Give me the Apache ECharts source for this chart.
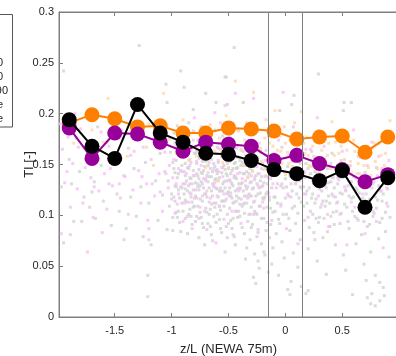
<!DOCTYPE html>
<html>
<head>
<meta charset="utf-8">
<script src="https://cdn.jsdelivr.net/npm/echarts@6/dist/echarts.min.js"></script>
<style>
  html, body { margin: 0; padding: 0; background: #fff; }
  #chart { width: 396px; height: 356px; }
</style>
</head>
<body>
<div id="chart"></div>
<script>
// Bin centres of z/L used for the binned TI means
const binCentres = [-1.9, -1.7, -1.5, -1.3, -1.1, -0.9, -0.7, -0.5, -0.3, -0.1, 0.1, 0.3, 0.5, 0.7, 0.9];

// Binned mean TI for the three groups
const tiOrange = [0.191, 0.199, 0.195, 0.187, 0.188, 0.181, 0.181, 0.186, 0.185, 0.183, 0.175, 0.177, 0.178, 0.162, 0.177];
const tiPurple = [0.186, 0.156, 0.181, 0.180, 0.172, 0.163, 0.172, 0.170, 0.168, 0.154, 0.159, 0.151, 0.145, 0.133, 0.140];
const tiBlack  = [0.194, 0.168, 0.156, 0.209, 0.181, 0.172, 0.161, 0.160, 0.154, 0.145, 0.141, 0.134, 0.144, 0.108, 0.137];

// Stability class boundaries drawn as vertical lines
const stabilityLimits = [-0.15, 0.15];

// Tick values
const xTicks = [-1.5, -1, -0.5, 0, 0.5];

// Individual 10-min samples (z/L, TI)
const samplesGray = [
  [-1.97,0.128],[-1.95,0.073],[-1.95,0.242],[-1.9,0.155],[-1.88,0.131],[-1.86,0.094],[-1.84,0.176],[-1.81,0.143],[-1.79,0.094],[-1.77,0.118],
  [-1.74,0.162],[-1.72,0.108],[-1.7,0.123],[-1.68,0.133],[-1.67,0.097],[-1.65,0.187],[-1.62,0.149],[-1.6,0.114],[-1.57,0.172],[-1.55,0.131],
  [-1.53,0.09],[-1.5,0.158],[-1.48,0.121],[-1.46,0.104],[-1.44,0.183],[-1.42,0.139],[-1.4,0.087],[-1.38,0.166],[-1.36,0.118],[-1.33,0.146],
  [-1.31,0.099],[-1.285,0.267],[-1.27,0.128],[-1.25,0.079],[-1.23,0.152],[-1.21,0.041],[-1.21,0.02],[-1.2,0.112],[-1.18,0.071],[-1.16,0.175],
  [-1.14,0.134],[-1.12,0.095],[-1.1,0.161],[-1.08,0.12],[-1.06,0.143],[-1.04,0.086],[-1.05,0.229],[-1.04,0.211],[-0.92,0.242],[-0.89,0.226],
  [-0.81,0.204],[-0.7,0.22],[-0.53,0.236],[-0.61,0.211],[-0.45,0.265],[-0.52,0.236],[0.29,0.239],[0.076,0.218],[0.516,0.211],[0.58,0.211],
  [0.51,0.203],[-0.51,0.209],[-0.37,0.211],[0.056,0.209],[-0.05,0.203],
  [-0.99,0.152],[-0.98,0.118],[-0.97,0.171],[-0.96,0.103],[-0.95,0.137],[-0.95,0.188],[-0.94,0.125],[-0.93,0.093],[-0.93,0.159],[-0.92,0.144],
  [-0.91,0.112],[-0.9,0.177],[-0.9,0.131],[-0.99,0.098],[-0.97,0.142],[-0.94,0.165],[-0.92,0.084],[-0.91,0.149],[-0.96,0.128],[-0.98,0.181],
  [-0.89,0.121],[-0.89,0.158],[-0.88,0.097],[-0.88,0.139],[-0.87,0.173],[-0.87,0.113],[-0.86,0.147],[-0.86,0.082],[-0.85,0.129],[-0.85,0.191],
  [-0.84,0.106],[-0.84,0.155],[-0.83,0.136],[-0.83,0.118],[-0.82,0.168],[-0.82,0.091],[-0.81,0.144],[-0.81,0.125],[-0.8,0.109],[-0.8,0.161],
  [-0.86,0.124],[-0.84,0.137],[-0.88,0.151],[-0.83,0.099],[-0.81,0.183],
  [-0.79,0.132],[-0.79,0.094],[-0.78,0.151],[-0.78,0.117],[-0.77,0.174],[-0.77,0.139],[-0.76,0.078],[-0.76,0.125],[-0.75,0.158],[-0.75,0.103],
  [-0.74,0.142],[-0.74,0.187],[-0.73,0.114],[-0.73,0.131],[-0.72,0.166],[-0.72,0.088],[-0.71,0.148],[-0.71,0.121],[-0.7,0.107],[-0.7,0.136],
  [-0.78,0.163],[-0.76,0.145],[-0.74,0.098],[-0.72,0.127],[-0.77,0.109],[-0.75,0.129],[-0.73,0.153],[-0.71,0.071],
  [-0.69,0.155],[-0.69,0.118],[-0.68,0.133],[-0.68,0.092],[-0.67,0.171],[-0.67,0.127],[-0.66,0.146],[-0.66,0.106],[-0.65,0.138],[-0.65,0.081],
  [-0.64,0.162],[-0.64,0.119],[-0.63,0.151],[-0.63,0.099],[-0.62,0.184],[-0.62,0.135],[-0.61,0.112],[-0.61,0.144],[-0.6,0.126],[-0.6,0.167],
  [-0.69,0.139],[-0.67,0.113],[-0.65,0.124],[-0.63,0.129],[-0.61,0.093],[-0.66,0.159],[-0.64,0.075],[-0.62,0.108],[-0.68,0.176],[-0.6,0.141],
  [-0.59,0.118],[-0.59,0.152],[-0.58,0.096],[-0.58,0.137],[-0.57,0.165],[-0.57,0.124],[-0.56,0.142],[-0.56,0.083],[-0.55,0.131],[-0.55,0.178],
  [-0.54,0.109],[-0.54,0.149],[-0.53,0.127],[-0.53,0.064],[-0.52,0.158],[-0.52,0.116],[-0.51,0.139],[-0.51,0.101],[-0.5,0.146],[-0.5,0.123],
  [-0.58,0.171],[-0.56,0.114],[-0.54,0.133],[-0.52,0.089],[-0.57,0.105],[-0.55,0.147],[-0.53,0.169],[-0.51,0.121],[-0.59,0.134],[-0.5,0.092],
  [-0.49,0.135],[-0.49,0.107],[-0.48,0.161],[-0.48,0.122],[-0.47,0.144],[-0.47,0.087],[-0.46,0.129],[-0.46,0.172],[-0.45,0.113],[-0.45,0.151],
  [-0.44,0.138],[-0.44,0.071],[-0.43,0.166],[-0.43,0.119],[-0.42,0.147],[-0.42,0.098],[-0.41,0.131],[-0.41,0.183],[-0.4,0.111],[-0.4,0.142],
  [-0.48,0.095],[-0.46,0.146],[-0.44,0.124],[-0.42,0.157],[-0.47,0.117],[-0.45,0.079],[-0.43,0.136],[-0.41,0.104],[-0.49,0.153],[-0.4,0.127],
  [-0.39,0.149],[-0.39,0.116],[-0.38,0.132],[-0.38,0.088],[-0.37,0.163],[-0.37,0.124],[-0.36,0.102],[-0.36,0.141],[-0.35,0.057],[-0.35,0.129],
  [-0.34,0.155],[-0.34,0.112],[-0.33,0.137],[-0.33,0.094],[-0.32,0.171],[-0.32,0.121],[-0.31,0.146],[-0.31,0.076],[-0.3,0.133],[-0.3,0.108],
  [-0.38,0.152],[-0.36,0.119],[-0.34,0.068],[-0.32,0.141],[-0.3,0.159],
  [-0.29,0.126],[-0.29,0.091],[-0.28,0.148],[-0.28,0.113],[-0.27,0.062],[-0.27,0.135],[-0.26,0.033],[-0.26,0.119],[-0.25,0.157],[-0.25,0.101],
  [-0.24,0.141],[-0.24,0.083],[-0.23,0.127],[-0.23,0.048],[-0.22,0.165],[-0.22,0.109],[-0.21,0.138],[-0.21,0.072],[-0.2,0.117],[-0.2,0.151],
  [-0.28,0.039],[-0.24,0.055],
  [-0.19,0.132],[-0.19,0.097],[-0.18,0.146],[-0.18,0.061],[-0.17,0.121],[-0.17,0.085],[-0.16,0.159],[-0.16,0.108],[-0.15,0.137],[-0.15,0.044],
  [-0.14,0.115],[-0.13,0.091],[-0.13,0.148],[-0.12,0.127],[-0.11,0.068],[-0.11,0.103],[-0.1,0.139],[-0.12,0.052],
  [-0.09,0.118],[-0.08,0.082],[-0.08,0.153],[-0.07,0.131],[-0.06,0.096],[-0.06,0.041],[-0.05,0.142],[-0.04,0.111],[-0.03,0.074],[-0.03,0.167],
  [-0.02,0.127],[-0.01,0.058],[0,0.136],[0.01,0.101],[0.02,0.027],[0.02,0.148],[0.03,0.119],[0.04,0.085],[0.05,0.035],[0.05,0.131],
  [0.06,0.107],[0.07,0.063],[0.08,0.144],[0.09,0.092],[0.1,0.121],[0.11,0.049],[0.12,0.134],[0.13,0.076],[0.14,0.113],[0.14,0.03],
  [0.04,0.022],[0.18,0.023],[0.2,0.026],
  [0.16,0.128],[0.17,0.095],[0.18,0.151],[0.19,0.112],[0.2,0.067],[0.21,0.137],[0.22,0.104],[0.23,0.163],[0.24,0.121],[0.25,0.083],
  [0.26,0.143],[0.27,0.116],[0.28,0.055],[0.29,0.131],[0.3,0.098],[0.31,0.152],[0.32,0.124],[0.33,0.078],[0.34,0.139],[0.35,0.109],
  [0.36,0.042],[0.37,0.146],[0.38,0.119],[0.39,0.089],[0.4,0.133],[0.41,0.161],[0.42,0.103],[0.43,0.127],[0.44,0.071],[0.45,0.141],
  [0.18,0.121],[0.22,0.141],[0.27,0.097],[0.33,0.114],[0.41,0.121],
  [0.46,0.113],[0.47,0.135],[0.48,0.092],[0.49,0.154],[0.5,0.121],[0.51,0.061],[0.52,0.143],[0.53,0.046],[0.54,0.108],[0.55,0.129],
  [0.56,0.087],[0.57,0.149],[0.58,0.117],[0.59,0.022],[0.6,0.138],[0.61,0.099],[0.62,0.072],[0.63,0.125],[0.64,0.158],[0.65,0.105],
  [0.66,0.134],[0.67,0.081],[0.68,0.117],[0.69,0.052],[0.7,0.142],[0.71,0.036],[0.72,0.109],[0.73,0.128],[0.74,0.091],[0.75,0.064],
  [0.76,0.023],[0.77,0.131],[0.78,0.102],[0.79,0.041],[0.8,0.147],[0.81,0.115],[0.82,0.077],[0.83,0.034],[0.84,0.124],[0.85,0.097],
  [0.86,0.029],[0.87,0.138],[0.88,0.084],[0.89,0.112],[0.91,0.059],[0.72,0.019],[0.75,0.013],[0.79,0.011],[0.83,0.016],[0.87,0.021],
  [-1.03,0.134],[-1.02,0.109],[-1.01,0.162],[-1.0,0.121],[-0.99,0.085],[-0.98,0.146],[-0.97,0.129],[-0.96,0.154],[-0.95,0.098],[-0.94,0.141],
  [-0.93,0.117],[-0.92,0.171],[-0.91,0.127],[-0.9,0.104],[-0.89,0.143],[-0.88,0.115],[-0.87,0.134],[-0.86,0.168],[-0.85,0.101],[-0.84,0.122],
  [-0.83,0.152],[-0.82,0.131],[-0.81,0.108],[-0.8,0.139],[-0.79,0.161],[-0.78,0.099],[-0.77,0.128],[-0.76,0.156],[-0.75,0.116],[-0.74,0.133],
  [-0.73,0.092],[-0.72,0.144],[-0.71,0.172],[-0.7,0.121],[-0.69,0.103],[-0.68,0.149],[-0.67,0.138],[-0.66,0.089],[-0.65,0.155],[-0.64,0.131],
  [-0.63,0.112],[-0.62,0.148],[-0.61,0.127],[-0.6,0.101],[-0.59,0.143],[-0.58,0.124],[-0.57,0.087],[-0.56,0.158],[-0.55,0.114],[-0.54,0.121],
  [-0.53,0.145],[-0.52,0.134],[-0.51,0.078],[-0.5,0.163],[-0.49,0.119],[-0.48,0.141],[-0.47,0.131],[-0.46,0.097],[-0.45,0.137],[-0.44,0.152],
  [-0.43,0.104],[-0.42,0.126],[-0.41,0.117],[-0.4,0.154],[-0.39,0.131],[-0.38,0.109],[-0.37,0.141],[-0.36,0.082],[-0.35,0.149],[-0.34,0.126],
  [-0.33,0.117],[-0.32,0.101],[-0.31,0.132],[-0.3,0.088],[-0.29,0.144],[-0.28,0.127],[-0.27,0.104],[-0.26,0.139],[-0.25,0.079],[-0.24,0.121],
  [-0.23,0.109],[-0.22,0.134],[-0.21,0.097],[-0.2,0.129],[-0.19,0.064],[-0.18,0.118],[-0.17,0.139],[-0.16,0.093],[-0.15,0.122],[-0.14,0.078],
  [-0.97,0.114],[-0.94,0.104],[-0.91,0.161],[-0.88,0.126],[-0.85,0.146],[-0.82,0.113],[-0.79,0.119],[-0.76,0.136],[-0.73,0.141],[-0.7,0.153],
  [-0.67,0.101],[-0.64,0.143],[-0.61,0.136],[-0.58,0.109],[-0.55,0.124],[-0.52,0.141],[-0.49,0.127],[-0.46,0.112],[-0.43,0.146],[-0.4,0.099],
  [-0.37,0.111],[-0.34,0.143],[-0.31,0.119],[-0.28,0.101],[-0.25,0.131],[-0.22,0.122],[-0.19,0.116],[-0.16,0.131],[-0.13,0.107],[-0.1,0.118],
  [0.16,0.109],[0.17,0.137],[0.19,0.124],[0.2,0.146],[0.21,0.088],[0.23,0.117],[0.24,0.101],[0.25,0.132],[0.26,0.112],[0.28,0.141],
  [0.29,0.093],[0.3,0.126],[0.31,0.108],[0.32,0.136],[0.34,0.097],[0.35,0.129],[0.36,0.114],[0.37,0.084],[0.38,0.132],[0.39,0.112],
  [0.4,0.099],[0.42,0.137],[0.43,0.091],[0.44,0.118],[0.45,0.104],[0.46,0.131],[0.48,0.122],[0.49,0.102],[0.5,0.137],[0.52,0.111],
  [0.53,0.125],[0.55,0.094],[0.56,0.119],[0.58,0.133],[0.59,0.104],[0.6,0.118],[0.62,0.127],[0.63,0.097],[0.65,0.122],[0.66,0.109],
  [0.68,0.131],[0.69,0.094],[0.71,0.121],[0.72,0.089],[0.74,0.112],[0.76,0.127],[0.77,0.099],[0.79,0.118],[0.8,0.107],[0.82,0.129],
  [0.83,0.093],[0.85,0.114],[0.86,0.121],[0.88,0.103],[0.9,0.126],[0.92,0.098],
  [-0.09,0.104],[-0.07,0.112],[-0.05,0.092],[-0.04,0.129],[-0.02,0.101],[0.0,0.117],[0.01,0.128],[0.03,0.097],[0.04,0.139],[0.06,0.124],
  [0.08,0.109],[0.09,0.131],[0.11,0.102],[0.12,0.117],[0.13,0.128]
];

const samplesPink = [
  [-1.98,0.19],[-1.96,0.165],[-1.94,0.132],[-1.91,0.177],[-1.89,0.108],[-1.87,0.151],[-1.85,0.2],[-1.83,0.126],[-1.8,0.185],[-1.78,0.112],
  [-1.76,0.147],[-1.73,0.171],[-1.71,0.137],[-1.69,0.098],[-1.66,0.161],[-1.64,0.124],[-1.62,0.182],[-1.59,0.141],[-1.57,0.106],[-1.55,0.168],
  [-1.52,0.129],[-1.5,0.193],[-1.47,0.152],[-1.45,0.117],[-1.43,0.176],[-1.41,0.138],[-1.38,0.101],[-1.36,0.159],[-1.34,0.125],[-1.31,0.181],
  [-1.29,0.144],[-1.27,0.112],[-1.25,0.167],[-1.22,0.131],[-1.2,0.087],[-1.18,0.155],[-1.15,0.119],[-1.13,0.178],[-1.11,0.141],[-1.08,0.104],
  [-1.06,0.162],[-1.03,0.127],[-1.97,0.082],[-1.89,0.081],[-1.74,0.064],[-1.61,0.083],[-1.42,0.076],[-1.2,0.076],[-1.21,0.095],
  [-1.92,0.143],[-1.82,0.167],[-1.68,0.128],[-1.54,0.146],[-1.46,0.131],[-1.33,0.163],[-1.26,0.138],[-1.17,0.131],[-1.1,0.123],[-1.05,0.141],
  [-0.99,0.137],[-0.97,0.102],[-0.96,0.168],[-0.94,0.121],[-0.93,0.186],[-0.91,0.143],[-0.9,0.094],[-0.88,0.131],[-0.87,0.162],[-0.85,0.113],
  [-0.84,0.149],[-0.82,0.087],[-0.81,0.174],[-0.79,0.125],[-0.78,0.141],[-0.76,0.097],[-0.75,0.158],[-0.73,0.119],[-0.72,0.183],[-0.7,0.134],
  [-0.69,0.086],[-0.67,0.152],[-0.66,0.117],[-0.64,0.169],[-0.63,0.128],[-0.61,0.073],[-0.6,0.145],[-0.58,0.109],[-0.57,0.191],[-0.55,0.138],
  [-0.54,0.096],[-0.52,0.161],[-0.51,0.122],[-0.49,0.177],[-0.48,0.133],[-0.46,0.081],[-0.45,0.156],[-0.43,0.114],[-0.42,0.168],[-0.4,0.126],
  [-0.39,0.092],[-0.37,0.149],[-0.36,0.186],[-0.34,0.119],[-0.33,0.157],[-0.31,0.101],[-0.3,0.139],[-0.28,0.173],[-0.27,0.114],[-0.25,0.148],
  [-0.24,0.086],[-0.22,0.162],[-0.21,0.128],[-0.19,0.107],[-0.18,0.154],[-0.16,0.123],[-0.15,0.178],[-0.13,0.136],[-0.12,0.095],[-0.1,0.161],
  [-0.95,0.111],[-0.83,0.121],[-0.71,0.104],[-0.59,0.166],[-0.47,0.104],[-0.35,0.134],[-0.23,0.141],[-0.44,0.22],[-0.28,0.215],[-0.62,0.201],
  [-0.8,0.196],[-0.53,0.208],
  [-1.02,0.149],[-1.0,0.116],[-0.98,0.155],[-0.96,0.131],[-0.94,0.146],[-0.92,0.128],[-0.9,0.159],[-0.89,0.112],[-0.87,0.141],[-0.86,0.099],
  [-0.84,0.131],[-0.83,0.164],[-0.81,0.139],[-0.8,0.117],[-0.78,0.153],[-0.77,0.131],[-0.75,0.108],[-0.74,0.149],[-0.72,0.136],[-0.71,0.161],
  [-0.69,0.124],[-0.68,0.142],[-0.66,0.171],[-0.65,0.111],[-0.63,0.146],[-0.62,0.132],[-0.6,0.119],[-0.59,0.154],[-0.57,0.127],[-0.56,0.147],
  [-0.54,0.172],[-0.53,0.114],[-0.51,0.151],[-0.5,0.134],[-0.48,0.119],[-0.47,0.162],[-0.45,0.139],[-0.44,0.104],[-0.42,0.141],[-0.41,0.124],
  [-0.39,0.164],[-0.38,0.136],[-0.36,0.112],[-0.35,0.159],[-0.33,0.128],[-0.32,0.151],[-0.3,0.119],[-0.29,0.163],[-0.27,0.137],[-0.26,0.102],
  [-0.24,0.129],[-0.23,0.171],[-0.21,0.146],[-0.2,0.113],[-0.18,0.138],[-0.17,0.164],[-0.15,0.143],[-0.14,0.118],[-0.12,0.151],[-0.11,0.131],
  [-0.08,0.127],[-0.06,0.174],[-0.04,0.109],[-0.02,0.221],[-0.01,0.143],[0.01,0.087],[0.03,0.159],[0.05,0.118],[0.07,0.187],[0.09,0.132],
  [0.11,0.072],[0.13,0.151],[0.16,0.121],[0.18,0.165],[0.2,0.098],[0.22,0.165],[0.24,0.134],[0.26,0.076],[0.28,0.196],[0.3,0.142],
  [0.32,0.111],[0.34,0.168],[0.36,0.127],[0.38,0.089],[0.4,0.151],[0.42,0.119],[0.44,0.178],[0.46,0.137],[0.48,0.101],[0.5,0.163],
  [0.52,0.128],[0.54,0.071],[0.56,0.146],[0.58,0.113],[0.6,0.184],[0.62,0.136],[0.64,0.095],[0.66,0.157],[0.68,0.121],[0.7,0.082],
  [0.72,0.149],[0.74,0.116],[0.76,0.172],[0.78,0.133],[0.8,0.094],[0.82,0.158],[0.84,0.124],[0.86,0.068],[0.88,0.145],[0.9,0.109],[0.92,0.131],
  [0.17,0.143],[0.21,0.127],[0.25,0.158],[0.29,0.119],[0.33,0.146],[0.37,0.101],[0.41,0.137],[0.45,0.112],[0.49,0.149],[0.53,0.124],
  [0.57,0.133],[0.61,0.108],[0.65,0.141],[0.69,0.127],[0.73,0.136],[0.77,0.104],[0.81,0.139],[0.85,0.146],[0.89,0.127],[0.91,0.154],
  [-0.07,0.147],[-0.03,0.131],[0.02,0.121],[0.06,0.153],[0.1,0.138],[0.14,0.127]
];

const samplesOrange = [
  [-1.94,0.19],[-1.86,0.171],[-1.7,0.184],[-1.66,0.162],[-1.56,0.215],[-1.48,0.176],[-1.39,0.158],[-1.3,0.188],[-1.22,0.167],[-1.16,0.149],
  [-1.07,0.22],[-1.02,0.175],[-0.96,0.161],[-0.9,0.194],[-0.85,0.154],[-0.8,0.182],[-0.75,0.168],[-0.7,0.147],[-0.66,0.189],[-0.62,0.163],
  [-0.58,0.176],[-0.55,0.152],[-0.52,0.198],[-0.49,0.171],[-0.46,0.158],[-0.44,0.232],[-0.42,0.184],[-0.39,0.165],[-0.37,0.149],[-0.34,0.191],
  [-0.31,0.172],[-0.28,0.221],[-0.27,0.157],[-0.24,0.183],[-0.22,0.166],[-0.19,0.145],[-0.17,0.194],[-0.14,0.171],[-0.12,0.156],[-0.09,0.203],
  [-0.07,0.164],[-0.05,0.178],[-0.03,0.151],[-0.01,0.187],[0.02,0.162],[0.04,0.174],[0.06,0.148],[0.08,0.191],[0.1,0.166],[0.12,0.155],
  [0.14,0.202],[0.17,0.161],[0.19,0.177],[0.21,0.149],[0.24,0.168],[0.27,0.156],[0.29,0.183],[0.32,0.164],[0.35,0.152],[0.38,0.171],
  [0.41,0.192],[0.43,0.159],[0.46,0.146],[0.49,0.168],[0.52,0.155],[0.55,0.179],[0.58,0.142],[0.61,0.163],[0.64,0.151],[0.67,0.139],
  [0.7,0.158],[0.73,0.147],[0.76,0.166],[0.79,0.153],[0.82,0.171],[0.85,0.144],[0.88,0.161],[0.92,0.193],[-0.6,0.134],[-0.33,0.138],
  [0.0,0.14],[0.3,0.142],
  [-0.56,0.163],[-0.5,0.147],[-0.47,0.181],[-0.41,0.157],[-0.36,0.174],[-0.32,0.158],[-0.29,0.143],[-0.25,0.168],[-0.21,0.153],[-0.18,0.176],
  [-0.15,0.159],[-0.11,0.168],[-0.08,0.147],[-0.04,0.163],[0.0,0.171],[0.03,0.151],[0.07,0.163],[0.11,0.176],[0.13,0.145],[0.16,0.171],
  [0.2,0.159],[0.23,0.148],[0.26,0.173],[0.31,0.151],[0.34,0.175],[0.37,0.159],[0.4,0.146],[0.44,0.172],[0.47,0.161],[0.51,0.143],
  [0.54,0.164],[0.57,0.153],[0.6,0.174],[0.63,0.141],[0.66,0.161],[0.69,0.149],[0.72,0.168],[0.75,0.139],[0.78,0.171],[0.81,0.146],
  [0.84,0.159],[0.87,0.149],[0.9,0.174],[-0.9,0.171],[-0.78,0.158],[-0.68,0.175],[-1.4,0.18],[-1.6,0.172],[-1.2,0.19],[-1.1,0.17]
];

// Right-hand ends of the legend entries that fit in the window
const legendTail = ['0', '0', '90', 'e', 'e'];

const axisGray = '#7f7f7f';
const textDark = '#262626';
const font = 'Liberation Sans, Arial, Helvetica, sans-serif';

const chart = echarts.init(document.getElementById('chart'), null, { renderer: 'canvas' });

function pointCloud(data, color) {
  return {
    type: 'scatter',
    data: data,
    symbol: 'rect',
    symbolSize: 3,
    itemStyle: { color: color },
    silent: true,
    z: 1
  };
}

function meanLine(values, color, z) {
  return {
    type: 'line',
    data: binCentres.map((x, i) => [x, values[i]]),
    symbol: 'circle',
    symbolSize: 15,
    showSymbol: true,
    lineStyle: { color: color, width: 2 },
    itemStyle: { color: color },
    z: z
  };
}

const legendY = [63, 77, 91, 105, 119];
const legendRight = [3, 3, 8, 3, 3];

chart.setOption({
  animation: false,
  backgroundColor: '#fff',
  grid: {
    left: 59, top: 12, width: 339, height: 305,
    outerBoundsMode: 'none', containLabel: false,
    show: true, borderColor: axisGray, borderWidth: 1, backgroundColor: 'transparent'
  },
  xAxis: [
    {
      type: 'value', min: -1.99, max: 0.99,
      name: 'z/L (NEWA 75m)', nameLocation: 'middle', nameGap: 26, nameMoveOverlap: false,
      nameTextStyle: { fontFamily: font, fontSize: 13, color: textDark, verticalAlign: 'top' },
      axisLine: { show: true, onZero: false, lineStyle: { color: axisGray } },
      axisTick: { show: true, inside: true, length: 4, customValues: xTicks, lineStyle: { color: axisGray } },
      axisLabel: { show: true, customValues: xTicks, margin: 8, fontFamily: font, fontSize: 11, color: textDark },
      splitLine: { show: false }
    },
    {
      type: 'value', min: -1.99, max: 0.99, position: 'top',
      axisLine: { show: true, onZero: false, lineStyle: { color: axisGray } },
      axisTick: { show: true, inside: true, length: 4, customValues: xTicks, lineStyle: { color: axisGray } },
      axisLabel: { show: false },
      splitLine: { show: false }
    }
  ],
  yAxis: {
    type: 'value', min: 0, max: 0.3, interval: 0.05,
    name: 'TI [-]', nameLocation: 'middle', nameGap: 23, nameRotate: 90, nameMoveOverlap: false,
    nameTextStyle: { fontFamily: font, fontSize: 13, color: textDark },
    axisLine: { show: true, onZero: false, lineStyle: { color: axisGray } },
    axisTick: { show: true, inside: true, length: 4, lineStyle: { color: axisGray } },
    axisLabel: { margin: 5, fontFamily: font, fontSize: 11, color: textDark },
    splitLine: { show: false }
  },
  series: [
    pointCloud(samplesGray, '#d2d2d2'),
    pointCloud(samplesPink, '#f5c0f5'),
    pointCloud(samplesOrange, '#ffd6ab'),
    {
      type: 'line', data: [], silent: true,
      markLine: {
        silent: true, symbol: ['none', 'none'], label: { show: false },
        lineStyle: { color: '#808080', width: 1, type: 'solid' },
        data: stabilityLimits.map(v => ({ xAxis: v }))
      },
      z: 2
    },
    meanLine(tiOrange, '#ff8000', 3),
    meanLine(tiPurple, '#990099', 4),
    meanLine(tiBlack, '#000000', 5)
  ],
  graphic: [
    {
      type: 'rect', shape: { x: -20, y: 14.5, width: 32.5, height: 112.5 },
      style: { fill: '#fff', stroke: '#555', lineWidth: 1 }, z: 10
    }
  ].concat(legendTail.map((t, i) => ({
    type: 'text', x: legendRight[i], y: legendY[i], z: 11,
    style: { text: t, fill: textDark, font: '11px ' + font, textAlign: 'right', textVerticalAlign: 'middle' }
  })))
});
</script>
</body>
</html>
